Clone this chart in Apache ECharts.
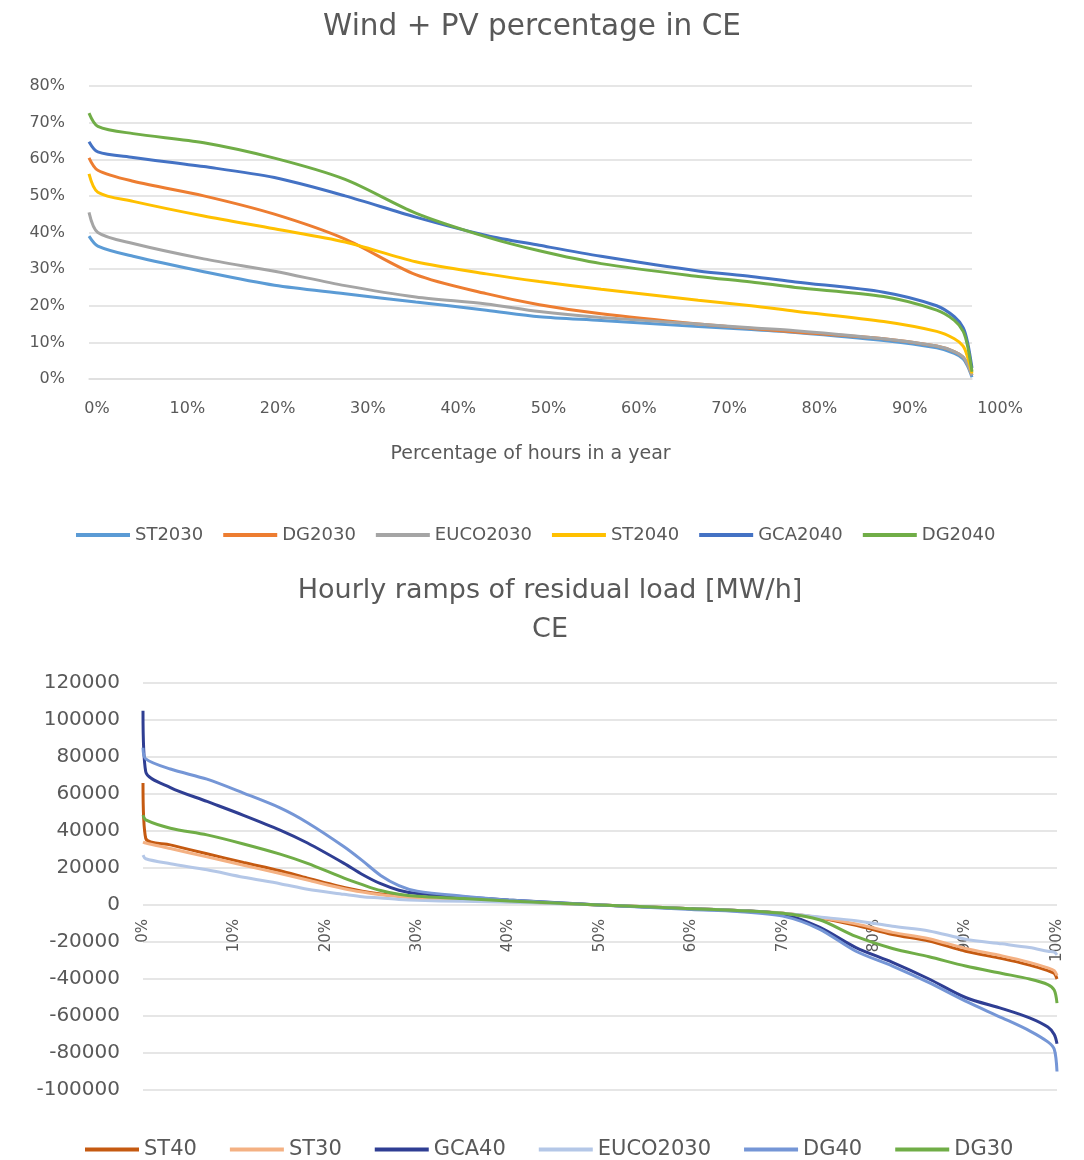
<!DOCTYPE html>
<html>
<head>
<meta charset="utf-8">
<title>Wind + PV percentage and hourly ramps in CE</title>
<script src="https://cdn.jsdelivr.net/npm/echarts@6/dist/echarts.min.js"></script>
<style>
  html, body { margin: 0; padding: 0; background: #ffffff; }
  #chart { width: 1084px; height: 1160px; }
</style>
</head>
<body>
<div id="chart"></div>
<script>
// ---- Wind + PV share duration curves (percent of hours in a year -> share %) ----
const hourShare = [0, 1, 5, 13, 21, 29, 37, 45, 51, 58, 69, 75, 80, 90, 96, 98, 99, 99.5, 100];
const st2030   = [39, 36.3, 33.5, 29.3, 25.6, 23.3, 21, 18.8, 17, 16, 14.3, 13.5, 12.7, 10.5, 8.5, 7, 5.5, 3.5, 0.5];
const dg2030   = [60.4, 57, 54, 50, 45, 38.2, 28.5, 23.3, 20.3, 17.8, 15, 13.8, 12.8, 11, 9, 7.5, 6, 4, 1];
const euco2030 = [45.5, 40, 37, 32.8, 29.4, 25.5, 22.4, 20.5, 18.4, 16.8, 15, 14, 13.2, 11, 9, 7.5, 6, 4, 1];
const st2040   = [56, 51, 48.5, 44.5, 41, 37.4, 32, 28.7, 26.6, 24.5, 21.5, 20, 18.5, 15.7, 13, 11, 9, 6, 1.5];
const gca2040  = [64.8, 62, 60.5, 58, 55, 50, 44.2, 39.2, 36.5, 33.5, 29.5, 28, 26.5, 23.7, 20, 17, 14, 10, 3];
const dg2040   = [72.6, 69, 67, 64.5, 60.3, 54.5, 45.3, 38.8, 35, 31.5, 28, 26.5, 25, 22.5, 18.8, 16, 13, 9, 2];
const shareTicks = [0, 80, 10];   // min, max, step of the share axis (%)

// ---- Hourly ramps of residual load duration curves (MW/h) ----
const rampShare = [0, 0.3, 3, 7, 11, 15, 18, 22, 24, 26, 28, 30, 35, 40, 50, 60, 65, 70, 74, 78, 82, 86, 90, 94, 97, 99, 99.7, 100];
const st40      = [66000, 36000, 32500, 27700, 23000, 18500, 14500, 9500, 7500, 6000, 5000, 4000, 3000, 2000, 0, -2000, -3000, -4500, -7000, -11000, -16000, -19500, -25000, -29000, -32500, -35500, -37000, -40000];
const st30      = [34000, 33500, 30500, 26000, 21500, 17000, 13500, 8800, 7000, 5600, 4600, 3700, 2800, 1800, 0, -2000, -3000, -4400, -6700, -10200, -14800, -18200, -23500, -27500, -31000, -34000, -35500, -38000];
const gca40     = [105000, 72000, 63500, 56000, 48500, 40500, 33500, 22500, 16500, 11500, 8000, 6200, 4300, 2700, 0, -2000, -3000, -5000, -12000, -23000, -31000, -40000, -50000, -56000, -61000, -66000, -70000, -75000];
const eucoRamp  = [27000, 25000, 22300, 19000, 15000, 11500, 8500, 5800, 4500, 3800, 3000, 2500, 2000, 1500, 0, -2000, -3000, -4500, -6500, -8500, -11500, -14000, -18500, -21000, -23000, -25000, -25500, -27000];
const dg40      = [85000, 79000, 73500, 68000, 60500, 52500, 44500, 31500, 24000, 16000, 10500, 7500, 4800, 2700, 0, -2500, -3500, -6000, -13000, -25000, -33000, -42000, -52000, -61000, -68000, -74000, -78000, -90000];
const dg30      = [48600, 46000, 41500, 37900, 33000, 27500, 22500, 14500, 11000, 7800, 5800, 4700, 3500, 2100, 0, -2000, -3000, -4500, -8000, -17000, -23500, -28000, -33000, -37000, -40000, -43000, -46000, -53000];
const rampTicks = [-100000, 120000, 20000];   // min, max, step of the ramp axis

// Series names and colours
const topNames  = ['ST2030', 'DG2030', 'EUCO2030', 'ST2040', 'GCA2040', 'DG2040'];
const topValues = [st2030, dg2030, euco2030, st2040, gca2040, dg2040];
const topColors = ['#5b9bd5', '#ed7d31', '#a5a5a5', '#ffc000', '#4472c4', '#70ad47'];

const rampNames  = ['ST40', 'ST30', 'GCA40', 'EUCO2030', 'DG40', 'DG30'];
const rampValues = [st40, st30, gca40, eucoRamp, dg40, dg30];
const rampColors = ['#c55a11', '#f4b183', '#2f3e93', '#b4c7e7', '#7596d6', '#70ad47'];

const FONT = '"DejaVu Sans", sans-serif';
const TEXT = '#595959';
const GRIDLINE = '#dedede';

// Plot boxes (pixels)
const shareBox = { left: 89, right: 112, top: 86, height: 293 };
const rampBox  = { left: 143, right: 27, top: 683, height: 407 };
// vertical position of the zero line of the ramp axis, where its percent labels hang
const rampZeroY = rampBox.top + rampBox.height * rampTicks[1] / (rampTicks[1] - rampTicks[0]);

function pairs(xs, ys) { return xs.map((x, i) => [x, ys[i]]); }

const series = [];
topNames.forEach((name, i) => {
  series.push({
    name: name, type: 'line', xAxisIndex: 0, yAxisIndex: 0,
    data: pairs(hourShare, topValues[i]),
    showSymbol: false, smooth: 0.3,
    lineStyle: { width: 3, color: topColors[i] },
    itemStyle: { color: topColors[i] },
    emphasis: { disabled: true }
  });
});
rampNames.forEach((name, i) => {
  series.push({
    name: name, type: 'line', xAxisIndex: 2, yAxisIndex: 2,
    data: pairs(rampShare, rampValues[i]),
    showSymbol: false, smooth: 0.3,
    lineStyle: { width: 3, color: rampColors[i] },
    itemStyle: { color: rampColors[i] },
    emphasis: { disabled: true }
  });
});

const chart = echarts.init(document.getElementById('chart'), null, { renderer: 'canvas' });

const titleStyle = (text, size) => ({
  text: text, font: size + 'px ' + FONT, fill: TEXT,
  textAlign: 'center', textVerticalAlign: 'middle', align: 'center', verticalAlign: 'middle'
});

chart.setOption({
  backgroundColor: '#ffffff',
  animation: false,
  textStyle: { fontFamily: FONT, color: TEXT },
  graphic: [
    { type: 'text', x: 532, y: 27, style: titleStyle('Wind + PV percentage in CE', 29.5) },
    { type: 'text', x: 550, y: 591, style: titleStyle('Hourly ramps of residual load [MW/h]', 27) },
    { type: 'text', x: 550, y: 630, style: titleStyle('CE', 27) }
  ],
  legend: [
    {
      left: 71, top: 521, itemWidth: 54, itemHeight: 4, itemGap: 20, icon: 'rect',
      selectedMode: false,
      textStyle: { fontFamily: FONT, fontSize: 18, color: TEXT },
      data: topNames.map((n, i) => ({ name: n, itemStyle: { color: topColors[i] } }))
    },
    {
      left: 80, top: 1134, itemWidth: 54, itemHeight: 4, itemGap: 33, icon: 'rect',
      selectedMode: false,
      textStyle: { fontFamily: FONT, fontSize: 21, color: TEXT },
      data: rampNames.map((n, i) => ({ name: n, itemStyle: { color: rampColors[i] } }))
    }
  ],
  grid: [
    // share curves
    { left: shareBox.left, right: shareBox.right, top: shareBox.top, height: shareBox.height },
    // percent-of-hours labels under the share curves
    { left: 97, right: 84, top: shareBox.top, height: shareBox.height },
    // ramp curves
    { left: rampBox.left, right: rampBox.right, top: rampBox.top, height: rampBox.height },
    // percent labels of the ramp chart, hanging from its zero line
    { left: rampBox.left, right: rampBox.right, top: rampBox.top, height: rampZeroY - rampBox.top }
  ],
  xAxis: [
    {
      gridIndex: 0, type: 'value', min: 0, max: 100,
      axisLine: { show: true, lineStyle: { color: GRIDLINE, width: 1.5 } },
      axisTick: { show: false }, axisLabel: { show: false }, splitLine: { show: false },
      name: 'Percentage of hours in a year', nameLocation: 'middle', nameGap: 66,
      nameTextStyle: { fontFamily: FONT, fontSize: 19, color: TEXT }
    },
    {
      gridIndex: 1, type: 'value', min: 0, max: 100, interval: 10,
      axisLine: { show: false }, axisTick: { show: false }, splitLine: { show: false },
      axisLabel: { formatter: '{value}%', fontFamily: FONT, fontSize: 16, color: TEXT, margin: 22 }
    },
    {
      gridIndex: 2, type: 'value', min: 0, max: 100,
      axisLine: { show: false }, axisTick: { show: false }, splitLine: { show: false },
      axisLabel: { show: false }
    },
    {
      gridIndex: 3, type: 'value', min: 0, max: 100, interval: 10,
      axisLine: { show: false }, axisTick: { show: false }, splitLine: { show: false },
      axisLabel: { formatter: '{value}%', rotate: 90, fontFamily: FONT, fontSize: 15, color: TEXT, margin: 14 }
    }
  ],
  yAxis: [
    {
      gridIndex: 0, type: 'value', min: shareTicks[0], max: shareTicks[1], interval: shareTicks[2],
      axisLine: { show: false }, axisTick: { show: false },
      splitLine: { lineStyle: { color: GRIDLINE, width: 1.5 } },
      axisLabel: { formatter: '{value}%', fontFamily: FONT, fontSize: 16, color: TEXT, margin: 24 }
    },
    { gridIndex: 1, type: 'value', min: 0, max: 1, show: false },
    {
      gridIndex: 2, type: 'value', min: rampTicks[0], max: rampTicks[1], interval: rampTicks[2],
      axisLine: { show: false }, axisTick: { show: false },
      splitLine: { lineStyle: { color: GRIDLINE, width: 1.5 } },
      axisLabel: { formatter: v => String(v), fontFamily: FONT, fontSize: 20, color: TEXT, margin: 23 }
    },
    { gridIndex: 3, type: 'value', min: 0, max: 1, show: false }
  ],
  series: series
});
</script>
</body>
</html>
